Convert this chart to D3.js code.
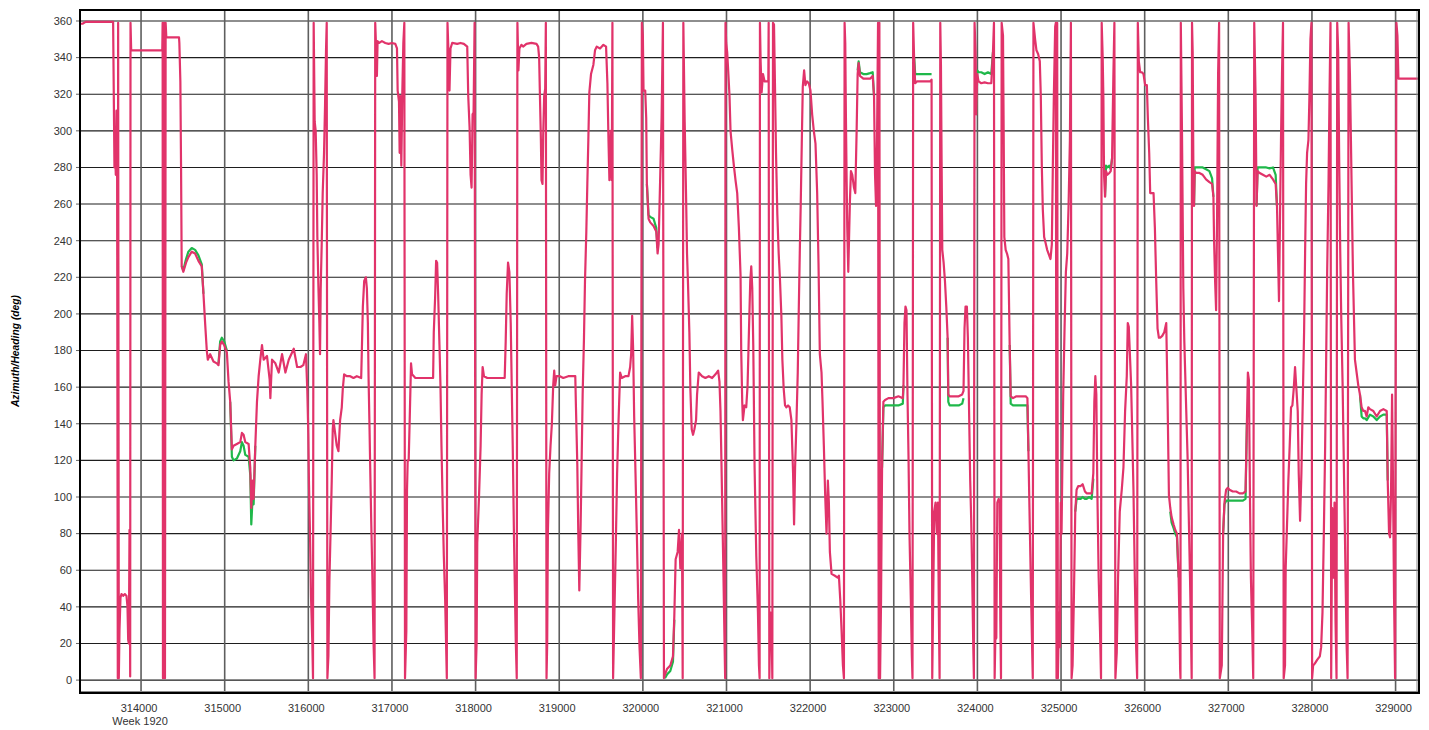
<!DOCTYPE html>
<html><head><meta charset="utf-8">
<script src="https://cdn.jsdelivr.net/npm/d3@7"></script>
<style>body{margin:0;background:#fff;} svg{display:block;font-family:"Liberation Sans",Arial,sans-serif;}</style>
</head><body><svg id="c" width="1429" height="730"></svg>
<script>
const xTicks = [314000,315000,316000,317000,318000,319000,320000,321000,322000,323000,324000,325000,326000,327000,328000,329000];
const yTicks = [0,20,40,60,80,100,120,140,160,180,200,220,240,260,280,300,320,340,360];
const weekLabel = "Week 1920";
const yTitle = "Azimuth/Heading (deg)";

// red series: [time of week (s), heading (deg)]
const heading = [
[313274,358.5],[313300,358.5],[313338,359.5],[313666,359.5],[313670,339],[313678,300],[313682,280],[313690,290],[313698,276],[313706,311],[313714,275],[313722,1],[313726,359],[313734,1],[313742,27],[313754,45],[313766,47],[313786,46],[313806,47],[313826,46],[313838,40],[313846,22],[313854,20],[313862,82],[313866,60],[313870,2],[313874,359],[313882,344],[314254,344],[314258,359],[314262,1],[314270,20],[314274,2],[314278,359],[314286,1],[314294,359],[314302,351],[314454,351],[314458,348],[314470,327],[314478,282],[314486,226],[314506,223],[314538,228],[314566,231],[314606,234],[314646,233],[314686,229],[314726,226],[314746,211],[314766,195],[314786,180],[314798,175],[314826,178],[314866,174],[314906,173],[314926,172],[314946,183],[314966,185],[314994,183],[315026,179],[315046,163],[315066,152],[315086,126],[315106,128],[315146,129],[315186,130],[315206,135],[315226,134],[315246,130],[315286,129],[315306,116],[315318,94],[315334,109],[315346,99],[315366,128],[315386,152],[315406,166],[315426,175],[315446,183],[315466,175],[315506,177],[315538,164],[315546,154],[315566,175],[315606,173],[315646,168],[315686,178],[315726,168],[315766,175],[315826,181],[315866,171],[315906,171],
[315940,172],[315972,178],[315988,158],[316000,134],[316008,107],[316020,80],[316032,46],[316048,20],[316056,1],[316064,359],[316076,305],[316088,300],[316100,276],[316108,242],[316120,216],[316132,195],[316140,178],[316148,214],[316160,238],[316172,266],[316188,288],[316200,314],[316212,345],[316220,359],[316228,1],[316240,13],[316252,54],[316268,85],[316280,109],[316292,137],[316300,142],[316320,135],[316340,128],[316360,125],[316380,142],[316400,149],[316412,159],[316428,167],[316460,166],[316500,166],[316540,165],[316580,166],[316632,165],[316640,180],[316652,204],[316668,218],[316688,220],[316700,214],[316712,195],[316720,166],[316732,137],[316740,116],[316752,87],[316764,61],[316780,20],[316792,1],[316800,359],[316812,343],[316820,330],[316828,349],[316844,348],[316880,349],[316920,348],[316960,347.5],[317000,348],[317040,347.5],[317060,345],[317068,322],[317084,316],[317092,288],[317100,319],[317112,281],[317124,321],[317136,348],[317148,359],[317156,1],[317172,27],[317180,104],[317188,120],[317200,120],[317212,142],[317228,173],[317240,167],[317280,165],[317320,165],[317380,165],[317440,165],[317492,165],[317500,190],[317516,209],[317528,229],[317540,228],[317552,211],[317568,183],[317580,161],[317592,128],[317608,92],[317620,68],[317636,44],[317648,18],[317656,1],[317664,359],[317672,348],[317688,322],[317700,345],[317720,348],[317780,347.5],[317820,348],[317860,347.5],[317900,346],[317912,319],[317928,302],[317940,276],[317952,269],[317964,309],[317976,310],[317988,359],[318000,1],[318012,20],[318020,75],[318040,99],[318060,128],[318072,156],[318084,171],[318100,166],[318140,165],[318200,165],[318260,165],[318320,165],[318348,165],[318360,185],[318372,211],[318388,228],[318404,223],[318420,195],[318432,161],[318444,128],[318460,75],[318480,22],[318492,1],[318500,359],[318512,333],[318524,345],
[318548,347],[318568,346],[318608,347.5],[318668,348],[318728,347.5],[318748,346],[318760,340],[318768,322],[318780,297],[318788,273],[318800,271],[318808,297],[318820,319],[318832,323],[318840,359],[318848,1],[318856,20],[318864,80],[318880,113],[318896,128],[318912,140],[318928,161],[318940,169],[318952,161],[318968,166],[319008,166],[319048,165],[319108,166],[319168,166],[319192,166],[319200,149],[319216,118],[319228,80],[319240,49],[319256,85],[319268,120],[319280,156],[319296,187],[319308,218],[319324,245],[319336,271],[319348,295],[319360,321],[319380,331],[319408,336],[319428,344],[319448,346],[319488,345],[319528,347],[319560,346],[319576,326],[319588,297],[319600,273],[319616,300],[319628,273],[319636,359],[319644,1],[319660,37],[319676,73],[319692,113],[319708,140],[319728,168],[319748,165],[319788,166],[319828,166],[319848,171],[319860,178],[319872,199],[319884,180],[319896,144],[319912,113],[319928,80],[319944,44],[319960,18],[319976,1],[319988,359],[320000,352],[320008,322],[320028,322],[320040,307],[320048,271],[320068,252],[320088,250],[320128,248],[320160,245],[320176,233],[320188,238],[320208,276],[320224,307],[320240,359],[320252,1],[320264,3],[320288,6],[320328,8],[320360,13],[320376,35],[320392,66],[320416,70],[320432,82],[320448,61],[320468,80],[320476,1],[320484,359],[320500,305],[320516,266],[320528,233],[320540,216],[320556,190],[320568,159],[320584,137],[320600,134],[320616,137],[320636,142],[320648,156],[320668,168],[320708,166],[320748,165],[320788,166],[320828,165],[320868,167],[320900,169],[320916,163],[320928,147],[320940,118],[320952,87],[320964,56],[320976,22],[320984,1],[320988,359],[320996,348],[321008,343],[321020,333],[321036,319],[321048,300],[321068,290],[321088,281],[321108,273],[321128,266],[321148,247],[321168,221],
[321176,180],[321188,152],[321196,142],[321216,150],[321236,149],[321252,161],[321268,190],[321284,218],[321296,226],[321308,214],[321320,183],[321336,116],[321356,68],[321376,37],[321388,8],[321396,1],[321400,359],[321408,338],[321420,321],[321436,331],[321456,327],[321484,327],[321500,327],[321504,359],[321512,1],[321524,37],[321532,20],[321540,27],[321548,1],[321556,359],[321568,358],[321580,324],[321592,288],[321608,254],[321624,233],[321640,218],[321656,199],[321668,175],[321684,159],[321700,150],[321716,149],[321736,150],[321756,149],[321776,142],[321796,113],[321808,85],[321820,116],[321836,140],[321852,168],[321864,202],[321876,233],[321888,261],[321900,293],[321912,324],[321928,333],[321944,325],[321964,327],[321984,326],[322004,322],[322024,309],[322044,300],[322064,293],[322084,266],[322100,228],[322116,178],[322136,168],[322148,152],[322164,128],[322180,101],[322196,80],[322212,109],[322224,97],[322236,70],[322256,58],[322296,57],[322328,56],[322344,57],[322360,44],[322376,27],[322392,8],[322404,1],[322412,359],[322420,348],[322428,307],[322436,274],[322444,247],[322456,223],[322468,247],[322476,262],[322488,278],[322504,276],[322524,269],[322540,266],[322556,300],[322568,331],[322580,337],[322596,330],[322636,328.5],[322676,328.5],[322716,328.5],[322748,330],[322764,319],[322776,276],[322788,259],[322800,295],[322812,359],[322820,1],[322828,359],[322836,1],[322848,44],[322860,116],[322876,152],[322896,153],[322936,154],[322996,154],[323056,155],[323108,154],[323116,161],[323128,195],[323140,204],[323152,202],[323164,156],[323176,123],[323188,80],[323204,44],[323216,13],[323224,1],[323232,359],[323244,338],[323256,326],[323276,327],[323316,327],[323376,327],[323436,327],[323452,328],[323460,1],[323468,32],[323484,92],[323500,97],[323516,80],[323528,97],[323540,32],[323548,1],[323556,359],[323564,336],[323572,283],[323580,235],[323596,228],[323612,218],[323628,204],[323644,187],[323652,156],[323668,155],[323716,155],[323776,155],
[323818,156],[323834,158],[323846,192],[323858,204],[323874,204],[323886,187],[323898,154],[323914,109],[323926,87],[323938,56],[323950,20],[323958,1],[323966,359],[323978,343],[323986,309],[323998,331],[324014,327],[324046,326],[324086,326.5],[324126,326],[324166,326],[324186,343],[324198,359],[324206,1],[324214,22],[324226,23],[324238,97],[324254,99],[324266,97],[324274,32],[324282,1],[324290,359],[324306,352],[324314,300],[324322,242],[324338,235],[324354,233],[324370,230],[324386,183],[324398,155],[324426,154],[324466,155],[324506,155],[324546,155],[324578,155],[324598,154],[324610,125],[324626,85],[324642,46],[324654,18],[324662,1],[324670,359],[324690,350],[324706,344],[324726,342],[324746,338],[324758,319],[324770,281],[324782,257],[324798,242],[324814,239],[324834,235],[324858,232],[324874,230],[324890,238],[324902,281],[324914,319],[324930,357],[324938,359],[324946,1],[324954,359],[324962,1],[324970,22],[324978,37],[324986,18],[324998,97],[325006,80],[325026,156],[325042,192],[325058,223],[325074,233],[325090,259],[325106,295],[325118,359],[325126,1],[325138,8],[325154,46],[325170,92],[325186,104],[325206,106],[325234,106],[325258,107],[325286,103],[325306,102],[325338,102],[325366,102],[325386,113],[325398,152],[325410,166],[325422,156],[325434,104],[325450,56],[325466,27],[325478,1],[325486,359],[325498,340],[325506,319],[325514,276],[325526,264],[325538,278],[325554,276],[325578,277],[325594,278],[325610,285],[325626,331],[325638,359],[325650,1],[325666,15],[325682,56],[325702,92],[325726,104],[325746,116],[325766,147],[325786,166],[325798,195],[325810,193],[325826,175],[325838,161],[325850,137],[325866,104],[325882,56],[325898,18],[325910,1],[325918,359],[325930,338],[325946,332],[325966,332],[325986,331],[326006,325],[326026,325],[326038,307],[326054,288],[326066,266],[326086,266],[326106,266],[326122,247],[326138,218],[326154,192],[326170,187],[326186,187],[326210,188],[326234,190],[326258,195],[326274,152],[326290,101],[326306,94],[326322,89],[326346,85],[326366,82],[326386,80],[326406,56],[326416,32],[326424,6],[326428,1],[326432,359],
[326446,300],[326462,214],[326474,185],[326494,152],[326514,120],[326526,92],[326542,56],[326554,25],[326562,1],[326566,359],[326574,343],[326582,281],[326590,259],[326598,278],[326614,277],[326654,277],[326694,276],[326734,273.5],[326774,272],[326806,271],[326822,264],[326830,240],[326842,218],[326854,202],[326866,254],[326878,331],[326890,359],[326898,1],[326922,8],[326938,80],[326954,97],[326974,104],[326994,105],[327014,104],[327054,103],[327094,103],[327134,102],[327174,102],[327206,103],[327222,140],[327234,168],[327246,164],[327258,104],[327270,56],[327286,27],[327298,1],[327310,359],[327326,319],[327338,259],[327350,278],[327374,277],[327414,276],[327454,275],[327494,276],[327534,273.5],[327566,271],[327582,259],[327594,233],[327606,207],[327618,252],[327630,295],[327642,331],[327654,359],[327662,1],[327678,8],[327686,61],[327702,85],[327718,109],[327734,128],[327750,149],[327766,150],[327782,159],[327798,171],[327814,159],[327830,147],[327842,113],[327858,87],[327874,113],[327890,152],[327906,190],[327918,233],[327930,271],[327942,288],[327958,295],[327970,319],[327982,350],[327994,359],[328002,1],[328014,8],[328034,9],[328062,11],[328094,13],[328110,18],[328126,37],[328142,80],[328158,128],[328170,175],[328182,223],[328198,271],[328210,319],[328222,359],[328230,1],[328242,94],[328258,56],[328270,97],[328282,32],[328294,1],[328302,359],[328314,343],[328326,283],[328338,235],[328350,199],[328366,163],[328378,128],[328390,92],[328402,56],[328414,20],[328426,1],[328438,359],[328454,331],[328466,295],[328478,259],[328490,223],[328502,199],[328514,175],[328534,168],[328554,161],[328574,156],[328594,149],[328614,147],[328634,147],[328654,144],[328674,149],[328694,148],[328734,147],[328774,144],[328814,147],[328854,148],[328894,147],[328906,109],[328922,80],[328934,78],[328946,104],[328958,156],[328970,104],[328982,44],[328994,1],[329010,359],[329022,352],[329034,328.5],[329300,328.5]
];

// green series (visible stretches; null = hidden under red)
const azimuth = [
[314266,2],[314270,357],[314274,1],null,
[314486,226],[314506,224],[314538,230],[314566,234],[314606,236],[314646,235],[314686,232],[314726,227],[314746,211],null,
[314926,173],[314946,185],[314966,187],[314994,185],[315026,180],null,
[315066,152],[315086,122],[315106,120],[315146,121],[315186,125],[315206,130],[315226,128],[315246,123],[315286,122],[315306,112],[315318,85],[315334,100],[315346,96],[315366,128],null,
[320048,271],[320068,254],[320088,253],[320128,252],[320160,247],[320176,236],null,
[320264,1],[320288,3],[320328,5],[320360,10],[320376,33],null,
[322568,333],[322580,338],[322596,332],[322636,331],[322676,331],[322716,331.5],[322748,332],[322764,319],null,
[322860,116],[322876,149],[322896,150],[322936,150],[322996,150],[323056,150],[323108,151],[323116,161],null,
[323244,340],[323256,331],[323276,331],[323316,331],[323376,331],[323436,331],[323452,331],null,
[323644,187],[323652,152],[323668,150],[323716,150],[323776,150],[323818,151],[323834,154],null,
[323986,309],[323998,333],[324014,332],[324046,332],[324086,331],[324126,332],[324166,331],[324186,343],null,
[324386,183],[324398,151],[324426,150],[324466,150],[324506,150],[324546,150],[324578,150],[324598,150],[324610,125],null,
[325170,92],[325186,99],[325206,99],[325234,99],[325258,100],[325286,99],[325306,99],[325338,100],[325366,99],[325386,110],null,
[325526,264],[325538,281],[325554,280],[325578,281],[325594,279],[325610,285],null,
[326306,92],[326322,86],[326346,83],[326366,80],[326386,78],[326406,56],null,
[326590,259],[326598,280],[326614,280],[326654,280],[326694,280],[326734,279],[326774,278],[326806,274],[326822,264],null,
[326938,80],[326954,96],[326974,98],[327014,98],[327054,98],[327094,98],[327134,98],[327174,98],[327206,99],[327222,140],null,
[327338,259],[327350,280],[327374,280],[327414,280],[327454,280],[327494,279.5],[327534,280],[327566,276],[327582,259],null,
[328574,156],[328594,144],[328614,143],[328634,143],[328654,142],[328694,145],[328734,144],[328774,142],[328814,144],[328854,145],[328894,145],[328906,109]
];

const svg = d3.select("#c");
const L = 80, T = 10, R = 1419, B = 693;
const x = d3.scaleLinear().domain([313270, 329280]).range([L, R]);
const y = d3.scaleLinear().domain([-6.5, 366]).range([692, T]);

svg.append("rect").attr("width",1429).attr("height",730).attr("fill","#fff");

// grid
const g = svg.append("g");
g.selectAll("line.h").data(yTicks).join("line").attr("class","h")
  .attr("x1",L).attr("x2",R).attr("y1",d=>y(d)).attr("y2",d=>y(d))
  .attr("stroke","#1e1e1e").attr("stroke-width",1.1);
g.selectAll("line.v").data(xTicks).join("line").attr("class","v")
  .attr("x1",d=>x(d)).attr("x2",d=>x(d)).attr("y1",T).attr("y2",B)
  .attr("stroke","#5e5e5e").attr("stroke-width",1.6);

// y axis ticks & labels
svg.selectAll("line.yt").data(yTicks).join("line").attr("class","yt")
  .attr("x1",L-4).attr("x2",L).attr("y1",d=>y(d)).attr("y2",d=>y(d))
  .attr("stroke","#666").attr("stroke-width",1);
svg.selectAll("text.yl").data(yTicks).join("text").attr("class","yl")
  .attr("x",L-8).attr("y",d=>y(d)).attr("dy","0.35em")
  .attr("text-anchor","end").attr("font-size",11).attr("fill","#333")
  .text(d=>d);

// x labels
svg.selectAll("text.xl").data(xTicks).join("text").attr("class","xl")
  .attr("x",d=>x(d)-2).attr("y",712)
  .attr("text-anchor","middle").attr("font-size",11).attr("fill","#333")
  .text(d=>d);
svg.append("text").attr("x",x(xTicks[0])-1).attr("y",725)
  .attr("text-anchor","middle").attr("font-size",11).attr("fill","#333").text(weekLabel);

// y title
svg.append("text").attr("transform","translate(19,351) rotate(-90)")
  .attr("text-anchor","middle").attr("font-size",10.3).attr("font-weight","bold")
  .attr("font-style","italic").attr("fill","#000").text(yTitle);

// clip
svg.append("clipPath").attr("id","clip").append("rect")
  .attr("x",L+1).attr("y",T+1).attr("width",R-L-2).attr("height",B-T-2);

const line = d3.line().defined(d=>d!==null).x(d=>x(d[0])).y(d=>y(d[1]));
const plot = svg.append("g").attr("clip-path","url(#clip)");
plot.append("path").datum(azimuth).attr("d",line).attr("fill","none")
  .attr("stroke","#1fb84a").attr("stroke-width",2.2).attr("stroke-linejoin","round");
plot.append("path").datum(heading).attr("d",line).attr("fill","none")
  .attr("stroke","#e1336a").attr("stroke-width",2.2).attr("stroke-linejoin","round");

// frame
svg.append("line").attr("x1",R-2).attr("x2",R-2).attr("y1",T).attr("y2",B).attr("stroke","#888").attr("stroke-width",1);
svg.append("line").attr("x1",L).attr("x2",R).attr("y1",B-1.5).attr("y2",B-1.5).attr("stroke","#888").attr("stroke-width",1);
svg.append("rect").attr("x",L).attr("y",T).attr("width",R-L).attr("height",B-T)
  .attr("fill","none").attr("stroke","#000").attr("stroke-width",2);
</script></body></html>
